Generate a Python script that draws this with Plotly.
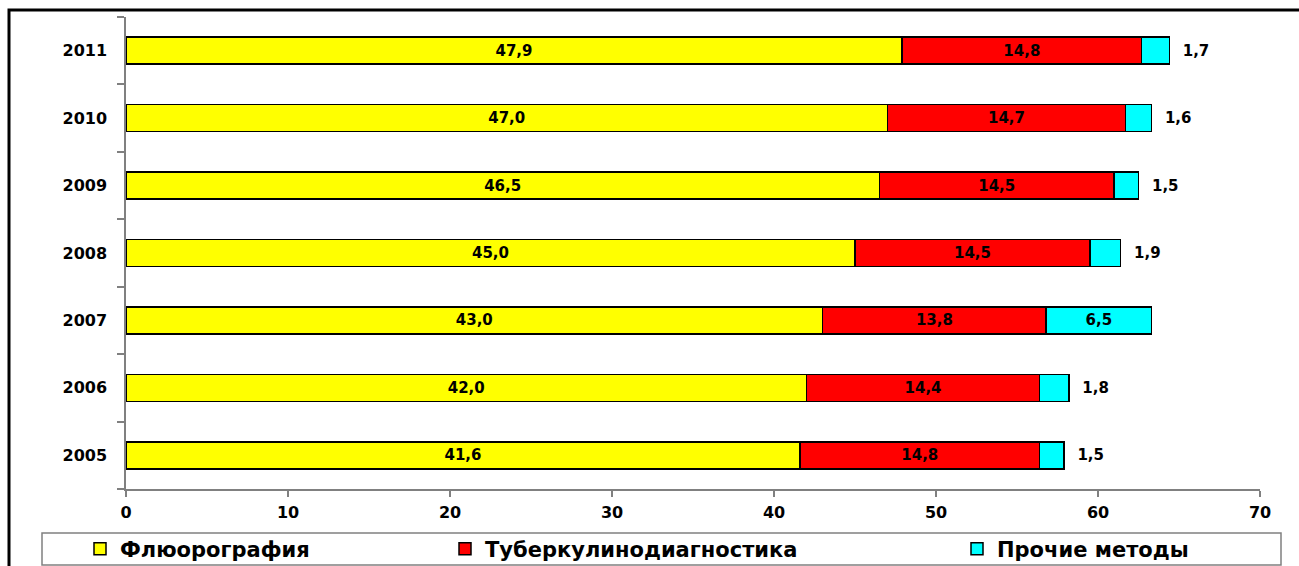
import plotly.graph_objects as go

YEARS = ['2005', '2006', '2007', '2008', '2009', '2010', '2011']
FLUORO = [41.6, 42.0, 43.0, 45.0, 46.5, 47.0, 47.9]
TUBERC = [14.8, 14.4, 13.8, 14.5, 14.5, 14.7, 14.8]
OTHER = [1.5, 1.8, 6.5, 1.9, 1.5, 1.6, 1.7]
NAMES = ['Флюорография', 'Туберкулинодиагностика', 'Прочие методы']
COLORS = ['#ffff00', '#ff0000', '#00ffff']

FONT = 'DejaVu Sans'
W, H = 1299, 566
ML, MR, MT, MB = 126, 39, 17, 77
PW, PH = W - ML - MR, H - MT - MB
BODY_JS = "document.body.style.margin = '0';"


def px_x(x):
    return (x - ML) / PW


def px_y(y):
    return (H - MB - y) / PH


bar_font = {'family': FONT, 'size': 15, 'color': 'black', 'weight': 'bold'}

fig = go.Figure()

for values, name, color, legend in zip([FLUORO, TUBERC], NAMES[:2], COLORS[:2], ['legend', 'legend2']):
    fig.add_trace(go.Bar(
        y=YEARS, x=values, name=name, orientation='h',
        marker={'color': color, 'line': {'color': 'black', 'width': 1.5}},
        texttemplate='%{x:.1f}', textposition='inside', insidetextanchor='middle',
        textfont=bar_font, legend=legend,
    ))

fig.add_trace(go.Bar(
    y=YEARS, x=OTHER, name=NAMES[2], orientation='h',
    marker={'color': COLORS[2], 'line': {'color': 'black', 'width': 1.5}},
    texttemplate=['%{x:.1f}' if v > 3 else '\u00a0\u00a0%{x:.1f}' for v in OTHER],
    textposition=['inside' if v > 3 else 'outside' for v in OTHER],
    insidetextanchor='middle',
    textfont=bar_font,
    cliponaxis=False,
    legend='legend3',
))

legend_common = dict(
    orientation='h', yanchor='middle', xanchor='left', y=px_y(549),
    font={'family': FONT, 'size': 21, 'color': 'black', 'weight': 'bold'},
    bgcolor='rgba(0,0,0,0)', borderwidth=0,
)

fig.update_layout(
    width=W, height=H,
    margin={'l': ML, 'r': MR, 't': MT, 'b': MB, 'pad': 0, 'autoexpand': False},
    paper_bgcolor='white', plot_bgcolor='white',
    barmode='stack', bargap=0.6,
    separators=', ',
    showlegend=True,
    font={'family': FONT, 'color': 'black'},
    legend={**legend_common, 'x': px_x(80)},
    legend2={**legend_common, 'x': px_x(445)},
    legend3={**legend_common, 'x': px_x(957)},
    xaxis={
        'range': [0, 70], 'dtick': 10, 'showgrid': False, 'zeroline': False,
        'showline': True, 'linecolor': '#808080', 'linewidth': 1.5,
        'ticks': 'outside', 'ticklen': 6, 'tickcolor': '#808080', 'tickwidth': 1.5,
        'ticklabelstandoff': 2,
        'tickfont': {'family': FONT, 'size': 16, 'color': 'black', 'weight': 'bold'},
    },
    yaxis={
        'type': 'category', 'categoryorder': 'array', 'categoryarray': YEARS,
        'showgrid': False, 'showline': True, 'linecolor': '#808080', 'linewidth': 1.5,
        'ticks': 'outside', 'tickson': 'boundaries', 'ticklen': 7,
        'tickcolor': '#808080', 'tickwidth': 1.5, 'ticklabelstandoff': 14,
        'tickfont': {'family': FONT, 'size': 16, 'color': 'black', 'weight': 'bold'},
    },
    shapes=[
        # legend box
        dict(type='rect', xref='paper', yref='paper',
             x0=px_x(42), x1=px_x(1281), y0=px_y(533), y1=px_y(565),
             line={'color': '#808080', 'width': 1.5}, fillcolor='rgba(0,0,0,0)', layer='below'),
        # outer frame (cropped)
        dict(type='rect', xref='paper', yref='paper',
             x0=px_x(9), x1=px_x(1310), y0=px_y(10), y1=px_y(580),
             line={'color': 'black', 'width': 3}, fillcolor='rgba(0,0,0,0)', layer='below'),
    ],
)

fig.write_html('out.html', config={'displayModeBar': False}, post_script=[BODY_JS])
